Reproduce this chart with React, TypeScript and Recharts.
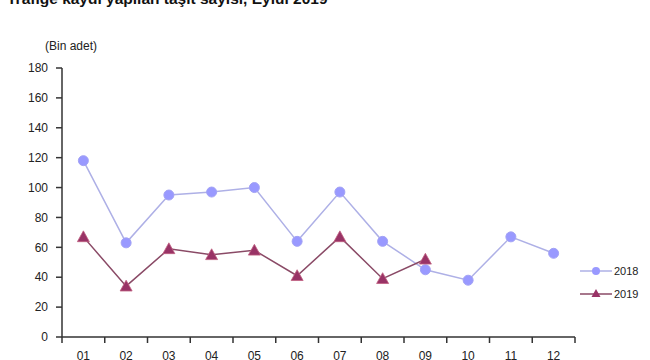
import { Line, LineChart, XAxis, YAxis } from 'recharts'

const months = ['01', '02', '03', '04', '05', '06', '07', '08', '09', '10', '11', '12']
const y2018 = [118, 63, 95, 97, 100, 64, 97, 64, 45, 38, 67, 56]
const y2019: (number | null)[] = [67, 34, 59, 55, 58, 41, 67, 39, 52, null, null, null]
const yTicks = [0, 20, 40, 60, 80, 100, 120, 140, 160, 180]

const C2018 = '#9999ff'
const C2018_LINE = '#aeb0e6'
const C2019 = '#993366'
const C2019_LINE = '#8a4a66'
const FONT = 'Arial, "Liberation Sans", sans-serif'

const data = months.map((m, i) => ({ x: i + 1, label: m, a: y2018[i], b: y2019[i] }))
const xTicks: number[] = []
for (let i = 0; i <= 24; i++) xTicks.push(0.5 + i * 0.5)

function XTick(props: any) {
  const { x, y, payload } = props
  const v = payload.value as number
  const axisY = y - 8
  if (Number.isInteger(v)) {
    return (
      <text x={x} y={axisY + 23} textAnchor="middle" fontSize={12} fill="#222" fontFamily={FONT}>
        {months[v - 1]}
      </text>
    )
  }
  return <line x1={x} x2={x} y1={axisY} y2={axisY + 6} stroke="#333" strokeWidth={1.5} />
}

function Circle(props: any) {
  const { cx, cy, value } = props
  if (value == null || cx == null) return null
  return <circle key={`c${cx}`} cx={cx} cy={cy} r={5} fill={C2018} stroke="#a3a3f5" strokeWidth={1} />
}

function Tri(props: any) {
  const { cx, cy, value } = props
  if (value == null || cx == null) return null
  const s = 6
  return (
    <polygon
      key={`t${cx}`}
      points={`${cx},${cy - s} ${cx - s},${cy + s * 0.8} ${cx + s},${cy + s * 0.8}`}
      fill={C2019}
      stroke="#c06080"
      strokeWidth={0.8}
    />
  )
}

function LegendBox() {
  return (
    <svg width={70} height={50} style={{ position: 'absolute', left: 580, top: 260 }}>
      <line x1={0} x2={32} y1={11} y2={11} stroke={C2018_LINE} strokeWidth={1.5} />
      <circle cx={16} cy={11} r={4} fill={C2018} />
      <text x={34} y={15} fontSize={11} fill="#222" fontFamily={FONT}>2018</text>
      <line x1={0} x2={32} y1={34} y2={34} stroke={C2019_LINE} strokeWidth={1.5} />
      <polygon points="16,29 11.5,37 20.5,37" fill={C2019} />
      <text x={34} y={38} fontSize={11} fill="#222" fontFamily={FONT}>2019</text>
    </svg>
  )
}

export default function App() {
  return (
    <div style={{ position: 'absolute', left: 0, top: 0, width: 650, height: 360, overflow: 'hidden', background: '#fff' }}>
      <svg width={650} height={20} style={{ position: 'absolute', left: 0, top: 0 }}>
        <text x={7} y={4} fontSize={15.5} fontWeight="bold" fill="#111" fontFamily={FONT}>
          Trafiğe kaydı yapılan taşıt sayısı, Eylül 2019
        </text>
      </svg>
      <div style={{ position: 'absolute', left: 45, top: 39, fontSize: 12, fontFamily: FONT, color: '#222' }}>
        (Bin adet)
      </div>
      <LineChart width={650} height={360} data={data} margin={{ top: 68, right: 75, left: 22, bottom: 3 }}>
        <XAxis
          dataKey="x"
          type="number"
          domain={[0.5, 12.5]}
          ticks={xTicks}
          interval={0}
          tick={<XTick />}
          tickLine={false}
          axisLine={{ stroke: '#333', strokeWidth: 1.5 }}
          height={20}
        />
        <YAxis
          domain={[0, 180]}
          ticks={yTicks}
          interval={0}
          width={40}
          tickSize={6}
          tickMargin={8}
          tick={{ fontSize: 12, fill: '#222', fontFamily: FONT }}
          tickLine={{ stroke: '#333', strokeWidth: 1.5 }}
          axisLine={{ stroke: '#333', strokeWidth: 1.5 }}
        />
        <Line dataKey="a" name="2018" stroke={C2018_LINE} strokeWidth={1.5} dot={<Circle />} activeDot={false} isAnimationActive={false} />
        <Line dataKey="b" name="2019" stroke={C2019_LINE} strokeWidth={1.5} dot={<Tri />} activeDot={false} connectNulls={false} isAnimationActive={false} />
      </LineChart>
      <LegendBox />
    </div>
  )
}
